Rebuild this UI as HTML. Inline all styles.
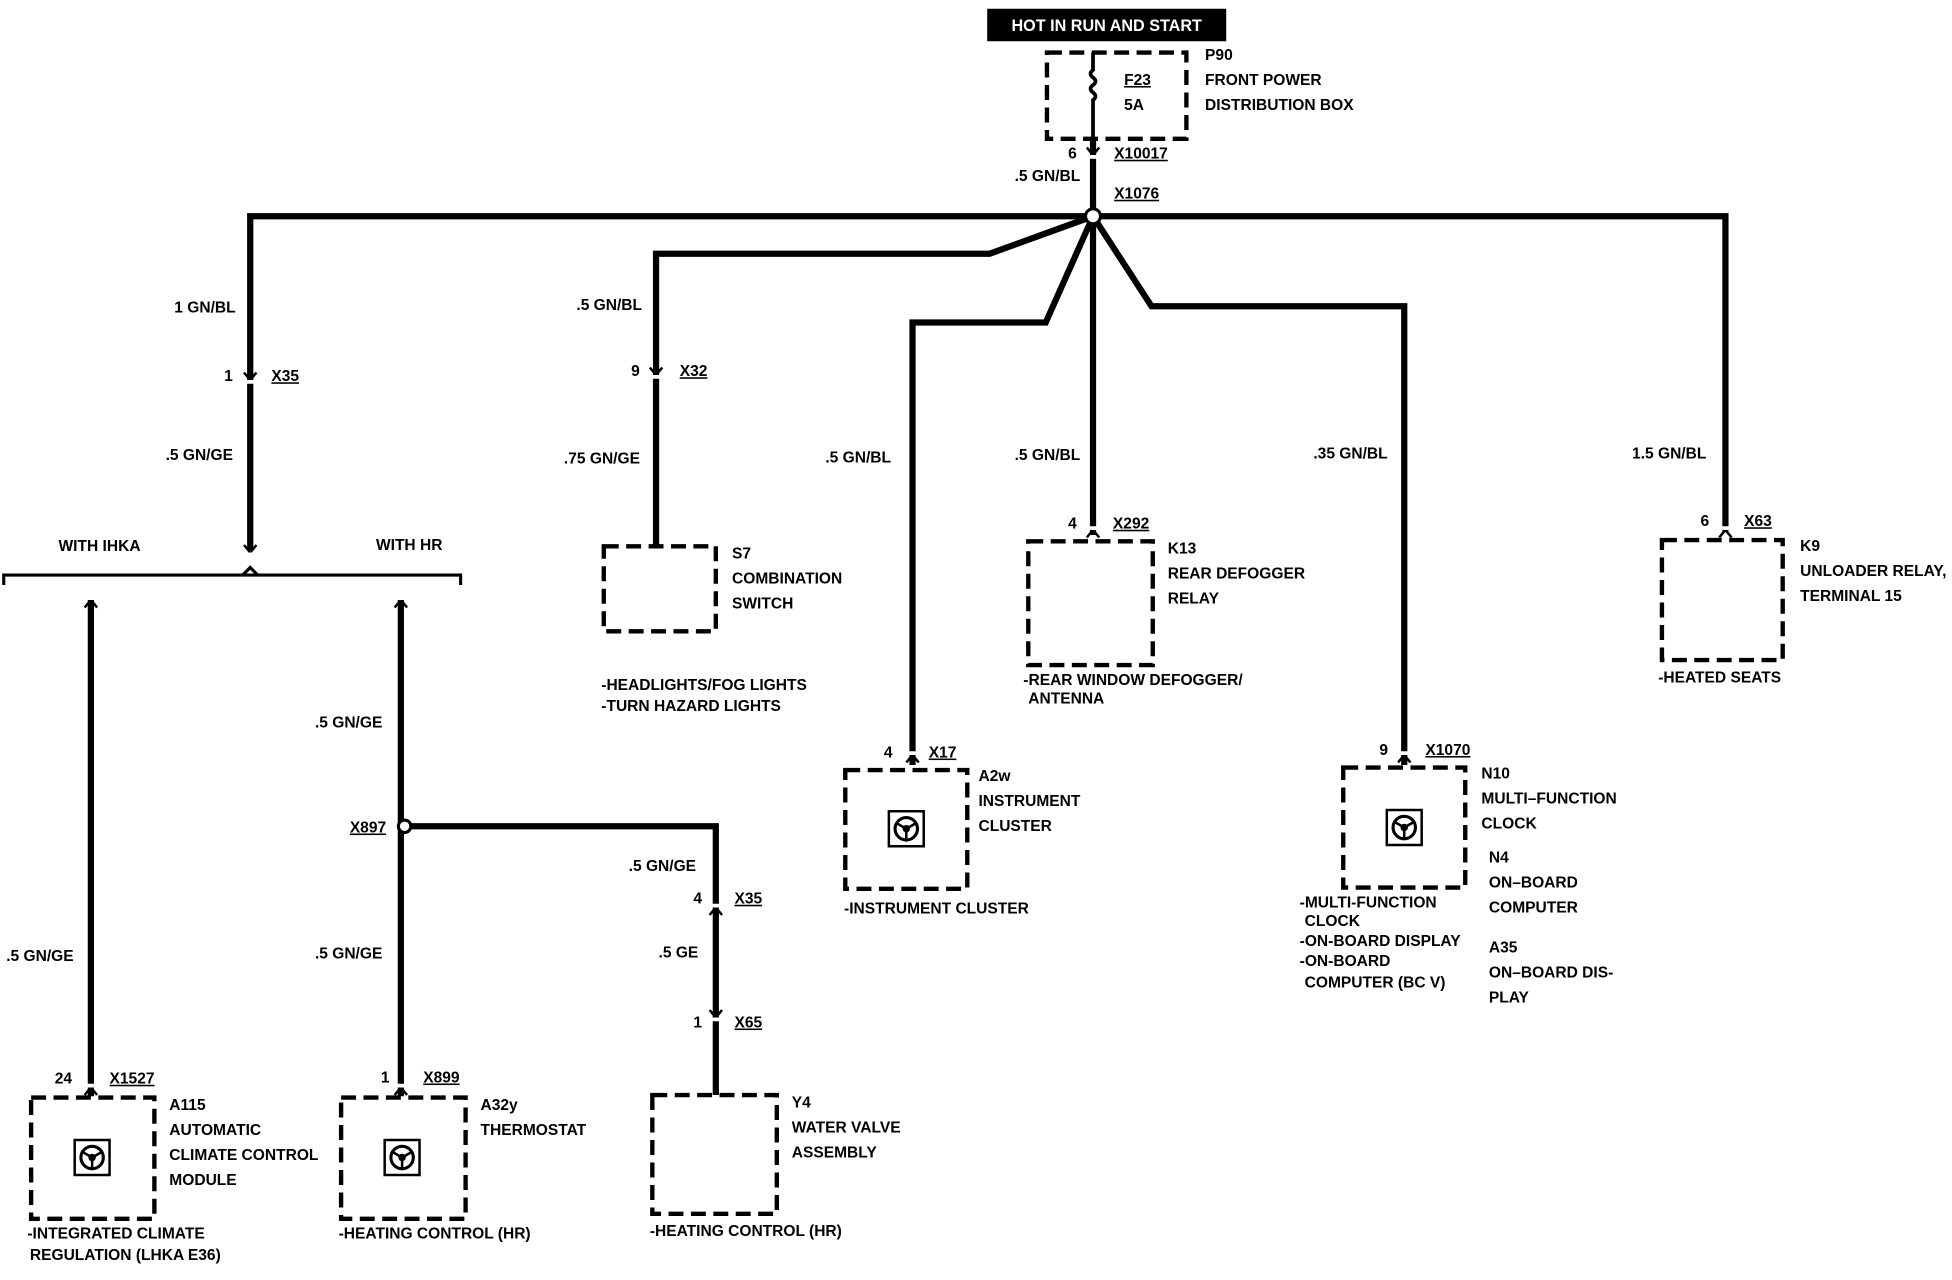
<!DOCTYPE html>
<html><head><meta charset="utf-8"><style>
html,body{margin:0;padding:0;background:#fff;}
svg{display:block;}
text{font-family:"Liberation Sans",sans-serif;font-size:12.5px;font-weight:bold;fill:#000;}
.u{text-decoration:underline;}
</style></head><body>
<svg width="1952" height="1280" viewBox="0 0 1568 1024" preserveAspectRatio="none" xmlns="http://www.w3.org/2000/svg">
<defs>
<g id="ic"><rect x="-14" y="-14" width="28" height="28" fill="none" stroke="#000" stroke-width="2"/><circle r="9" fill="none" stroke="#000" stroke-width="2.5"/><circle r="3" fill="#000"/><path d="M0 0 L-7 -4 M0 0 L7 -4 M0 0 L0 8" stroke="#000" stroke-width="2"/></g>
<g id="cd"><path d="M-5 -4 L0 2 L5 -4" fill="none" stroke="#000" stroke-width="2"/><rect x="-4" y="2" width="8" height="3" fill="#fff"/></g>
<g id="cu"><path d="M-5 4 L0 -2 L5 4" fill="none" stroke="#000" stroke-width="2"/><rect x="-4" y="-5" width="8" height="3" fill="#fff"/></g>
</defs>
<g fill="none" stroke="#000" stroke-width="5" stroke-linejoin="miter">
<path d="M878 110 V173"/>
<path d="M201 440 V173 H1386 V425"/>
<path d="M878 173 L795 203 H527 V437"/>
<path d="M878 173 L840 258 H733 V612"/>
<path d="M878 173 V428"/>
<path d="M878 173 L925 245 H1128 V612"/>
<path d="M73 480 V877"/>
<path d="M322 480 V877"/>
<path d="M325 661 H575 V876"/>
</g>
<g fill="none" stroke="#000" stroke-width="2.5">
<path d="M3 468 V460 H370 V468"/>
<path d="M195 460 L201 454 L207 460"/>
</g>
<circle cx="878" cy="173" r="6" fill="#fff" stroke="#000" stroke-width="2.5"/>
<circle cx="325" cy="661" r="5" fill="#fff" stroke="#000" stroke-width="2.5"/>
<use href="#cd" x="878" y="122"/>
<use href="#cd" x="201" y="302"/>
<use href="#cd" x="201" y="440"/>
<use href="#cd" x="527" y="298"/>
<use href="#cu" x="878" y="426"/>
<use href="#cu" x="1386" y="426"/>
<use href="#cu" x="733" y="606"/>
<use href="#cu" x="1128" y="606"/>
<use href="#cu" x="73" y="482"/>
<use href="#cu" x="322" y="482"/>
<use href="#cu" x="73" y="872"/>
<use href="#cu" x="322" y="872"/>
<use href="#cu" x="575" y="728"/>
<use href="#cd" x="575" y="812"/>
<g fill="#fff" stroke="#000" stroke-width="3.5" stroke-dasharray="12,6">
<rect x="841" y="42" width="112" height="69"/>
<rect x="485" y="437" width="90" height="68"/>
<rect x="826" y="433" width="100" height="99"/>
<rect x="1335" y="432" width="97" height="96"/>
<rect x="679" y="616" width="98" height="95"/>
<rect x="1079" y="614" width="98" height="96"/>
<rect x="25" y="878" width="99" height="97"/>
<rect x="274" y="878" width="100" height="97"/>
<rect x="524" y="876" width="100" height="95"/>
</g>
<path d="M878 42 V56 q-4 3 0 6 q4 3 0 6 q-4 3 0 6 q4 3 0 6 V112" fill="none" stroke="#000" stroke-width="3"/>
<use href="#ic" x="728" y="663"/>
<use href="#ic" x="1128" y="662"/>
<use href="#ic" x="74" y="926"/>
<use href="#ic" x="323" y="926"/>
<rect x="793" y="7" width="192" height="26" fill="#000"/>
<text x="889" y="25" text-anchor="middle" style="fill:#fff;font-size:13px">HOT IN RUN AND START</text>
<text x="903" y="68" class="u">F23</text><text x="903" y="88">5A</text>
<text x="968" y="48">P90</text><text x="968" y="68">FRONT POWER</text><text x="968" y="88">DISTRIBUTION BOX</text>
<text x="858" y="127">6</text><text x="895" y="127" class="u">X10017</text>
<text x="815" y="145">.5 GN/BL</text><text x="895" y="159" class="u">X1076</text>
<text x="140" y="250">1 GN/BL</text><text x="180" y="305">1</text><text x="218" y="305" class="u">X35</text>
<text x="133" y="368">.5 GN/GE</text>
<text x="463" y="248">.5 GN/BL</text><text x="507" y="301">9</text><text x="546" y="301" class="u">X32</text>
<text x="453" y="371">.75 GN/GE</text>
<text x="663" y="370">.5 GN/BL</text><text x="815" y="368">.5 GN/BL</text>
<text x="1055" y="367">.35 GN/BL</text><text x="1311" y="367">1.5 GN/BL</text>
<text x="858" y="423">4</text><text x="894" y="423" class="u">X292</text>
<text x="1366" y="421">6</text><text x="1401" y="421" class="u">X63</text>
<text x="710" y="606">4</text><text x="746" y="606" class="u">X17</text>
<text x="1108" y="604">9</text><text x="1145" y="604" class="u">X1070</text>
<text x="47" y="441">WITH IHKA</text><text x="302" y="440">WITH HR</text>
<text x="588" y="447">S7</text><text x="588" y="467">COMBINATION</text><text x="588" y="487">SWITCH</text>
<text x="483" y="552">-HEADLIGHTS/FOG LIGHTS</text><text x="483" y="569">-TURN HAZARD LIGHTS</text>
<text x="938" y="443">K13</text><text x="938" y="463">REAR DEFOGGER</text><text x="938" y="483">RELAY</text>
<text x="822" y="548">-REAR WINDOW DEFOGGER/</text><text x="826" y="563">ANTENNA</text>
<text x="1446" y="441">K9</text><text x="1446" y="461">UNLOADER RELAY,</text><text x="1446" y="481">TERMINAL 15</text>
<text x="1332" y="546">-HEATED SEATS</text>
<text x="786" y="625">A2w</text><text x="786" y="645">INSTRUMENT</text><text x="786" y="665">CLUSTER</text>
<text x="678" y="731">-INSTRUMENT CLUSTER</text>
<text x="1190" y="623">N10</text><text x="1190" y="643">MULTI–FUNCTION</text><text x="1190" y="663">CLOCK</text>
<text x="1196" y="690">N4</text><text x="1196" y="710">ON–BOARD</text><text x="1196" y="730">COMPUTER</text>
<text x="1196" y="762">A35</text><text x="1196" y="782">ON–BOARD DIS-</text><text x="1196" y="802">PLAY</text>
<text x="1044" y="726">-MULTI-FUNCTION</text><text x="1048" y="741">CLOCK</text>
<text x="1044" y="757">-ON-BOARD DISPLAY</text><text x="1044" y="773">-ON-BOARD</text>
<text x="1048" y="790">COMPUTER (BC V)</text>
<text x="253" y="582">.5 GN/GE</text><text x="281" y="666" class="u">X897</text>
<text x="505" y="697">.5 GN/GE</text><text x="557" y="723">4</text><text x="590" y="723" class="u">X35</text>
<text x="529" y="766">.5 GE</text><text x="557" y="822">1</text><text x="590" y="822" class="u">X65</text>
<text x="253" y="767">.5 GN/GE</text><text x="5" y="769">.5 GN/GE</text>
<text x="44" y="867">24</text><text x="88" y="867" class="u">X1527</text>
<text x="306" y="866">1</text><text x="340" y="866" class="u">X899</text>
<text x="136" y="888">A115</text><text x="136" y="908">AUTOMATIC</text><text x="136" y="928">CLIMATE CONTROL</text><text x="136" y="948">MODULE</text>
<text x="22" y="991">-INTEGRATED CLIMATE</text><text x="24" y="1008">REGULATION (LHKA E36)</text>
<text x="386" y="888">A32y</text><text x="386" y="908">THERMOSTAT</text>
<text x="272" y="991">-HEATING CONTROL (HR)</text>
<text x="636" y="886">Y4</text><text x="636" y="906">WATER VALVE</text><text x="636" y="926">ASSEMBLY</text>
<text x="522" y="989">-HEATING CONTROL (HR)</text>
</svg>
</body></html>
